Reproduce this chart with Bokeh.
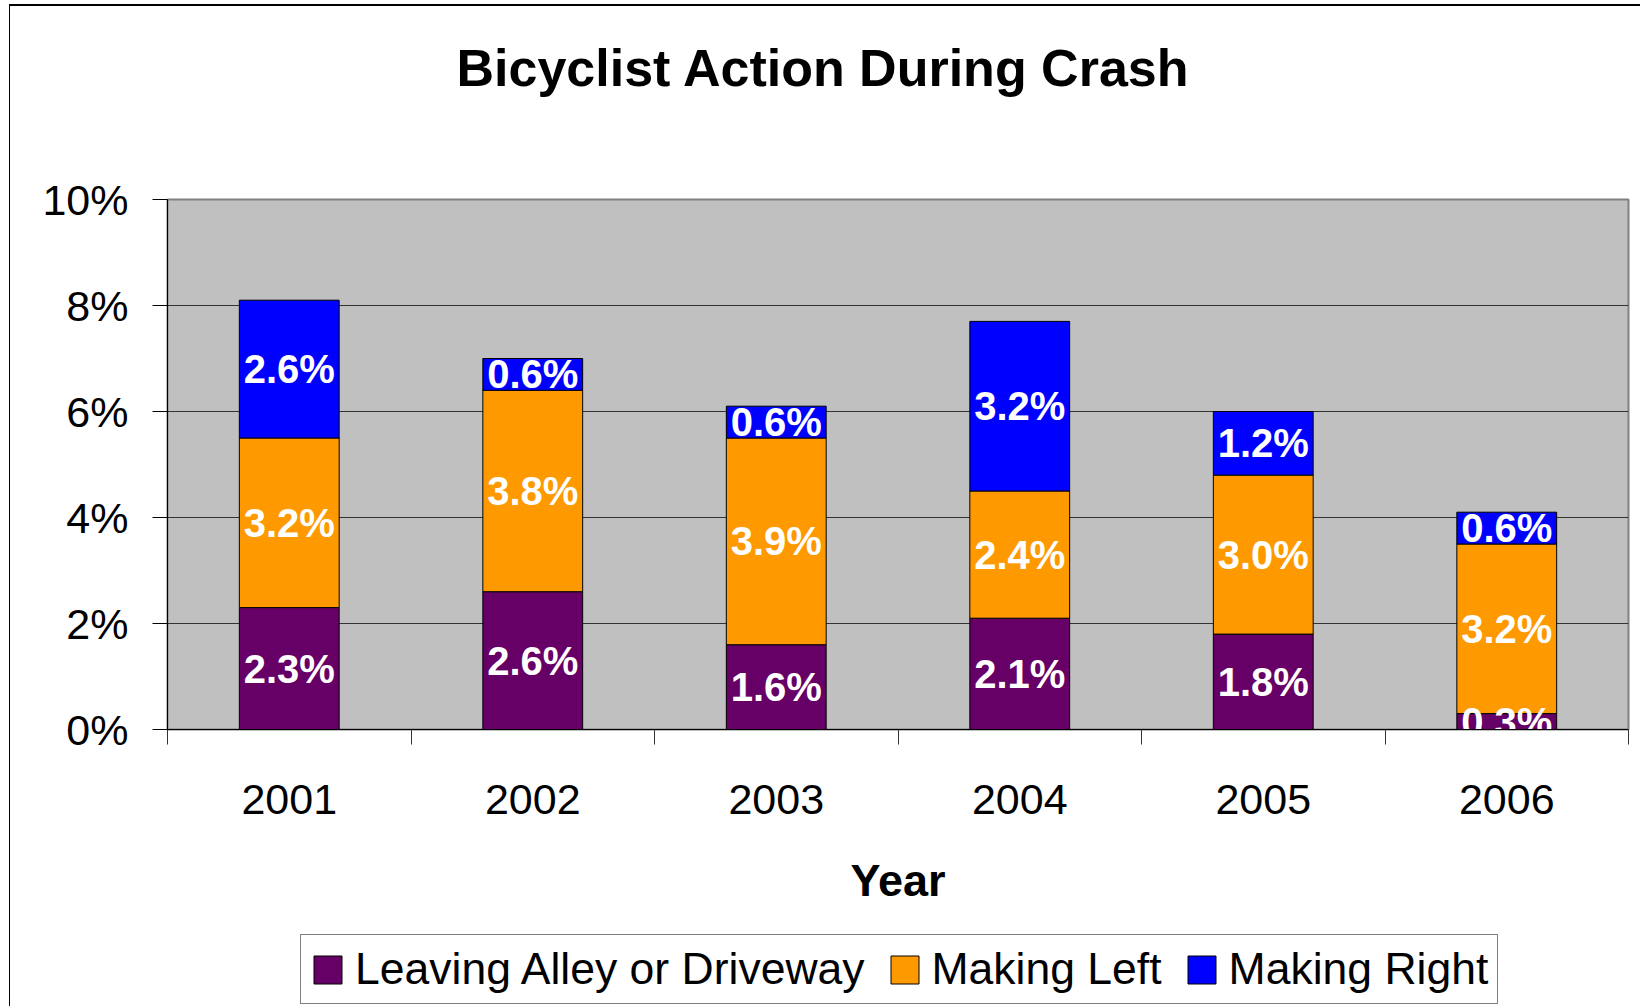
from bokeh.plotting import figure
from bokeh.layouts import column
from bokeh.models import (ColumnDataSource, FixedTicker, Legend, LegendItem,
                          PrintfTickFormatter, Range1d, Title)
from bokeh.core.properties import value
from bokeh.embed import file_html
from bokeh.resources import INLINE

# ---- data ----
years = ["2001", "2002", "2003", "2004", "2005", "2006"]
leaving = [2.3, 2.6, 1.6, 2.1, 1.8, 0.3]
making_left = [3.2, 3.8, 3.9, 2.4, 3.0, 3.2]
making_right = [2.6, 0.6, 0.6, 3.2, 1.2, 0.6]
series_names = ["Leaving Alley or Driveway", "Making Left", "Making Right"]
colors = ["#660066", "#FF9900", "#0000FF"]
y_ticks = [0, 2, 4, 6, 8, 10]
title_text = "Bicyclist Action During Crash"
x_title = "Year"

FONT = "Liberation Sans"

n = len(years)
xs = [i + 0.5 for i in range(n)]
src = ColumnDataSource(dict(x=xs, leaving=leaving, left=making_left, right=making_right))
stack_cols = ["leaving", "left", "right"]

W = 1630
p = figure(width=W, height=913, output_backend="svg", toolbar_location=None,
           title=None,
           x_range=Range1d(0, n), y_range=Range1d(0, 10),
           min_border_left=157, min_border_right=12, min_border_top=193,
           min_border_bottom=190, background_fill_color="#C0C0C0",
           border_fill_color="white")

# titles: spacer (nearest the frame) then the real title
p.add_layout(Title(text=" ", text_font=FONT, text_font_size="52px", standoff=43), "above")
p.add_layout(Title(text=title_text, text_font=FONT, text_font_size="52px",
                   text_font_style="bold", text_color="black", align="left",
                   offset=289, standoff=0), "above")

renderers = p.vbar_stack(stack_cols, x="x", width=0.41,
                         fill_color=colors, line_color="black", line_width=1,
                         source=src)

# labels centred in each segment
lx, ly, lt = [], [], []
for i in range(n):
    base = 0.0
    for vals in (leaving, making_left, making_right):
        v = vals[i]
        lx.append(xs[i])
        ly.append(base + v / 2.0)
        lt.append(f"{v:.1f}%")
        base += v
p.text(x=lx, y=ly, text=lt, text_align="center", text_baseline="middle",
       text_color="white", text_font=value(FONT), text_font_size="40px",
       text_font_style="bold")

# x axis
xa = p.xaxis[0]
xa.ticker = FixedTicker(ticks=xs, minor_ticks=list(range(n + 1)))
xa.major_label_overrides = {x: y for x, y in zip(xs, years)}
xa.major_tick_out = 0
xa.major_tick_in = 0
xa.minor_tick_out = 15
xa.minor_tick_in = 0
xa.minor_tick_line_color = "#333333"
xa.axis_line_color = "black"
xa.major_label_text_font = FONT
xa.major_label_text_font_size = "43px"
xa.major_label_text_color = "black"
xa.major_label_standoff = 40
xa.axis_label = x_title
xa.axis_label_text_font = FONT
xa.axis_label_text_font_size = "45px"
xa.axis_label_text_font_style = "bold"
xa.axis_label_text_color = "black"
xa.axis_label_standoff = 38

# y axis
ya = p.yaxis[0]
ya.ticker = FixedTicker(ticks=y_ticks, minor_ticks=[])
ya.formatter = PrintfTickFormatter(format="%d%%")
ya.major_tick_out = 15
ya.major_tick_in = 0
ya.axis_line_color = "black"
ya.major_label_text_font = FONT
ya.major_label_text_font_size = "43px"
ya.major_label_text_color = "black"
ya.major_label_standoff = 24

p.xgrid.visible = False
p.ygrid.ticker = FixedTicker(ticks=y_ticks)
p.ygrid.grid_line_color = "#333333"
p.ygrid.grid_line_width = 1

p.outline_line_color = "#808080"
p.outline_line_width = 2

# ---- legend strip (its bars lie outside its visible range) ----
pl = figure(width=W, height=87, output_backend="svg", toolbar_location=None,
            title=None, x_axis_type=None, y_axis_type=None,
            x_range=Range1d(100, 101), y_range=Range1d(100, 101),
            min_border=0, min_border_left=0, min_border_right=0,
            min_border_top=0, min_border_bottom=0,
            background_fill_color="white", border_fill_color="white")
pl.outline_line_color = None
pl.grid.visible = False
leg_renderers = pl.vbar_stack(stack_cols, x="x", width=0.41, fill_color=colors,
                              line_color="black", line_width=1, source=src)
legend = Legend(items=[LegendItem(label=s, renderers=[r]) for s, r in zip(series_names, leg_renderers)],
                orientation="horizontal", location=(133, 2),
                label_text_font=FONT, label_text_font_size="44.5px",
                label_text_color="black",
                glyph_width=35, glyph_height=35, label_standoff=10, spacing=22,
                padding=9, margin=0, border_line_color="black",
                border_line_width=1, background_fill_color="white")
pl.add_layout(legend, "center")

layout = column(p, pl, spacing=0)
layout.styles = {"border-left": "1px solid black", "border-top": "2px solid black",
                 "margin-left": "9px", "margin-top": "4px"}

open("out.html", "w").write(file_html(layout, INLINE))
